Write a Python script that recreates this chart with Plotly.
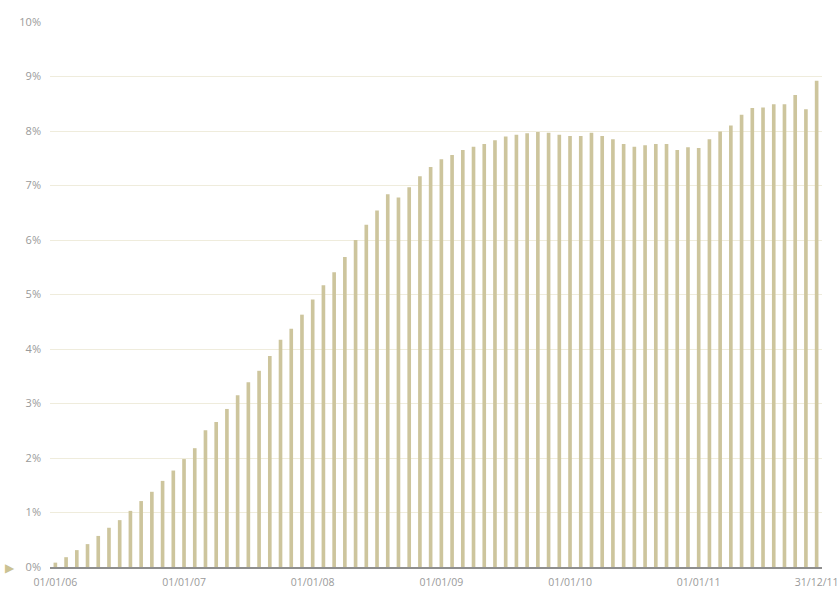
import plotly.graph_objects as go

months = list(range(72))  # monthly observations, Jan 2006 .. Dec 2011
values = [
    0.08, 0.18, 0.31, 0.42, 0.57, 0.72, 0.86, 1.03, 1.21, 1.38, 1.58, 1.77,
    1.98, 2.18, 2.51, 2.66, 2.90, 3.15, 3.39, 3.60, 3.87, 4.17, 4.37, 4.63,
    4.91, 5.17, 5.41, 5.69, 6.00, 6.28, 6.54, 6.84, 6.78, 6.97, 7.17, 7.34,
    7.48, 7.56, 7.65, 7.71, 7.76, 7.83, 7.90, 7.93, 7.96, 7.98, 7.97, 7.93,
    7.91, 7.91, 7.97, 7.91, 7.85, 7.76, 7.71, 7.74, 7.76, 7.76, 7.65, 7.70,
    7.69, 7.85, 7.99, 8.10, 8.30, 8.42, 8.43, 8.49, 8.49, 8.66, 8.40, 8.92,
]
x_tick_pos = [0, 12, 24, 36, 48, 60, 71]
x_tick_labels = ["01/01/06", "01/01/07", "01/01/08", "01/01/09", "01/01/10", "01/01/11", "31/12/11"]
y_tick_vals = list(range(0, 11))
y_tick_labels = [f"{v}%" for v in y_tick_vals]

fig = go.Figure(
    go.Bar(x=months, y=values, marker=dict(color="#cdc59d", line=dict(width=0)),
           hoverinfo="skip")
)

fig.update_layout(
    template="none",
    width=839, height=589,
    margin=dict(l=50, r=17, t=22, b=22, pad=0),
    paper_bgcolor="white", plot_bgcolor="white",
    bargap=0.66,
    showlegend=False,
    font=dict(family="Open Sans, Liberation Sans, Arial, sans-serif", size=10, color="#9a9a9a"),
)
fig.update_xaxes(
    range=[-0.5, 71.5], automargin=False,
    tickmode="array", tickvals=x_tick_pos, ticktext=x_tick_labels,
    showgrid=False, zeroline=False,
    showline=True, linecolor="#8e8e8e", linewidth=2,
    ticks="", ticklabelstandoff=4, ticklabeloverflow="allow",
    tickfont=dict(size=10.5, color="#9a9a9a"),
    fixedrange=True,
)
fig.update_yaxes(
    range=[0, 10], automargin=False,
    tickmode="array", tickvals=y_tick_vals, ticktext=y_tick_labels,
    showgrid=True, gridcolor="#efecdc", gridwidth=1,
    zeroline=False, showline=False,
    ticks="", ticklabelstandoff=8,
    tickfont=dict(size=11, color="#9a9a9a"),
    fixedrange=True,
)
fig.add_annotation(
    xref="paper", yref="y", x=0, y=0, xanchor="right", yanchor="middle",
    xshift=-33, text="▶", showarrow=False,
    font=dict(size=12, color="#cbc293"),
)

fig.write_html(
    "out.html",
    config={"responsive": False, "displayModeBar": False},
    post_script="document.body.style.margin='0';document.body.style.overflow='hidden';",
)
